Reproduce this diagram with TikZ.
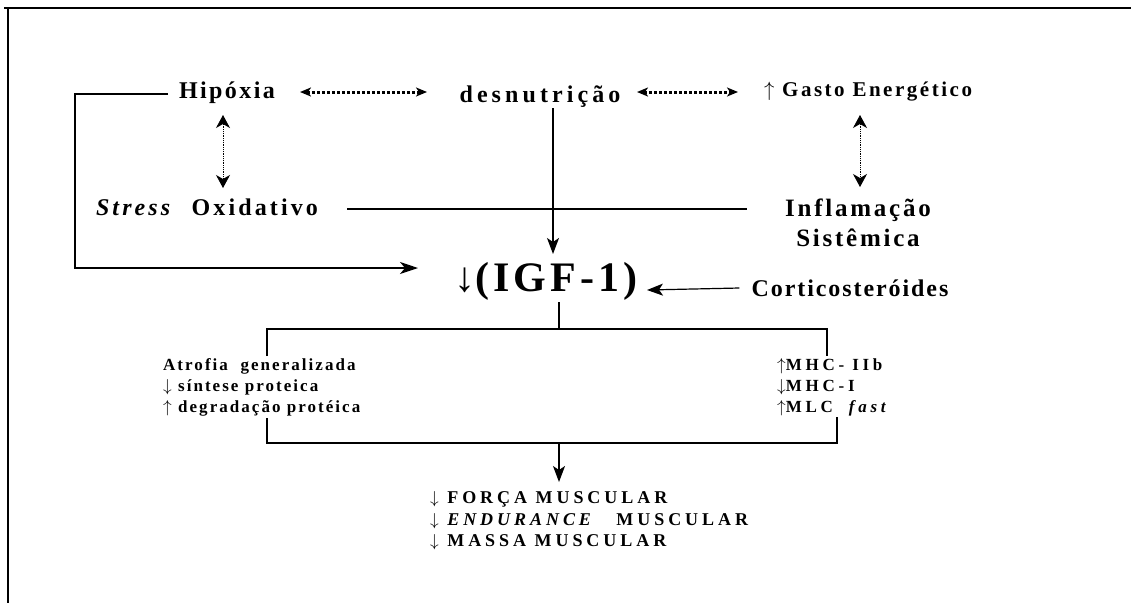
\documentclass[tikz,border=0pt]{standalone}
\usepackage{fontspec}
\setmainfont{Liberation Serif}
\usetikzlibrary{arrows.meta,positioning}
\newcommand{\spc}[1]{\addfontfeature{LetterSpace=#1}}
\newcommand{\up}{{\mdseries$\uparrow$}}
\newcommand{\dn}{{\mdseries$\downarrow$}}
\tikzset{
	term/.style={inner sep=0pt, font=\bfseries\spc{10}\fontsize{24}{30}\selectfont},
	midterm/.style={inner sep=0pt, font=\bfseries\spc{12}\fontsize{21}{24}\selectfont},
	bigterm/.style={inner sep=0pt, font=\bfseries\spc{10}\fontsize{42}{46}\selectfont},
	effect/.style={inner sep=0pt, align=left, anchor=west, font=\bfseries\spc{12}\fontsize{17}{21}\selectfont},
	outcome/.style={inner sep=0pt, align=left, anchor=west, font=\bfseries\spc{22}\fontsize{18}{21.5}\selectfont},
	link/.style={line width=1.2pt},
	cause/.style={link, -{Stealth[length=16pt, width=12pt, inset=4pt]}},
	mutual/.style={line width=3pt, dash pattern=on 3pt off 2pt, {Stealth[length=11pt, width=9pt, inset=3pt]}-{Stealth[length=11pt, width=9pt, inset=3pt]}},
	mutualv/.style={line width=0.8pt, densely dotted, {Stealth[length=13pt, width=14pt, inset=4pt]}-{Stealth[length=13pt, width=14pt, inset=4pt]}}
}
\begin{document}
\begin{tikzpicture}[x=1pt, y=-1pt]
	\useasboundingbox (0,0) rectangle (1131,603);
	% frame
	\draw[line width=2pt] (4,8) -- (1131,8);
	\draw[line width=2pt] (8,8) -- (8,603);

	\node[term] (hip) at (227,93) {Hipóxia};
	\node[term, font=\bfseries\spc{17}\fontsize{24}{30}\selectfont] (des) at (540,97) {desnutrição};
	\node[midterm] (gas) at (868,92) {\up\ Gasto Energético};
	\node[term, font=\bfseries\spc{13}\fontsize{24}{30}\selectfont] (str) at (207,207) {\textit{Stress}\ \ Oxidativo};
	\node[term, align=center, font=\bfseries\spc{11}\fontsize{25}{30}\selectfont] (inf) at (858,223) {Inflamação\\Sistêmica};
	\node[bigterm] (igf) at (546,281) {{\mdseries↓}(IGF-1)};
	\node[term, font=\bfseries\spc{8}\fontsize{24}{30}\selectfont] (cor) at (850,288) {Corticosteróides};
	\node[effect] (atr) at (163,387) {Atrofia\ \ generalizada\\\dn\ síntese proteica\\\up\ degradação protéica};
	\node[effect, font=\bfseries\spc{22}\fontsize{17}{21}\selectfont] (mhc) at (777,387) {\up MHC- IIb\\\dn MHC-I\\\up MLC\ \ {\itshape fast}};
	\node[outcome] (fmu) at (430,521) {\dn\ FORÇA MUSCULAR\\\dn\ {\itshape ENDURANCE}\ \ \ MUSCULAR\\\dn\ MASSA MUSCULAR};

	% reciprocal links
	\draw[mutual] (300,92) -- (427,92);
	\draw[mutual] (637,92) -- (738,92);
	\draw[mutualv] (223,115) -- (223,188);
	\draw[mutualv] (860,115) -- (860,187);

	% towards IGF-1
	\draw[link] (347,209) -- (747,209);
	\draw[cause] (553,108) -- (553,254);
	\draw[link, -{Stealth[length=18pt, width=12pt, inset=5pt]}] (168,94) -- (75,94) -- (75,268) -- (418,268);
	\draw[cause] ([xshift=-12pt]cor.west) -- (647,290);

	% upper bracket
	\coordinate (tl) at (267,329);
	\coordinate (tr) at (827,329);
	\draw[link] (559,302) -- (559,329);
	\draw[link] (267,356) -- (tl) -- (tr) -- (827,356);

	% lower bracket
	\coordinate (bl) at (267,443);
	\coordinate (br) at (837,443);
	\draw[link] (267,418) -- (bl) -- (br) -- (837,417);
	\draw[cause] (559,443) -- (559,482);
\end{tikzpicture}
\end{document}
